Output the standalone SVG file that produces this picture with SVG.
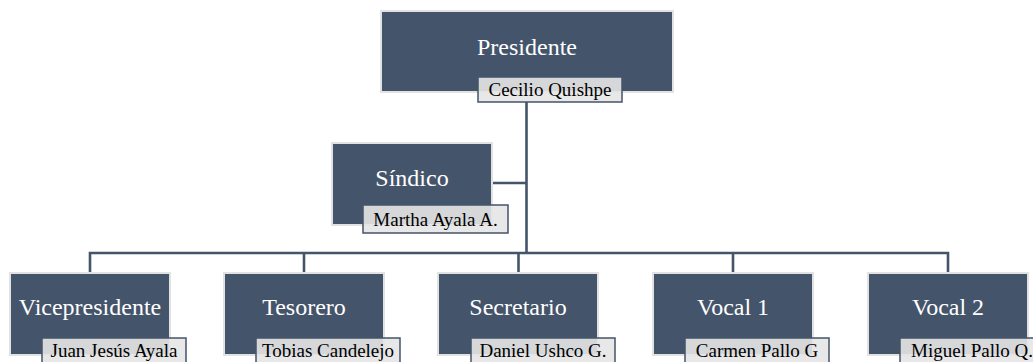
<svg xmlns="http://www.w3.org/2000/svg" width="1033" height="362" viewBox="0 0 1033 362">
<style>
.box{fill:#44546a;stroke:#e2e2e2;stroke-width:2}
.nm{fill:#e6e6e6;fill-opacity:0.9;stroke:#44546a;stroke-width:1.5}
.t{font-family:"Liberation Serif","Times New Roman",serif;font-size:24px;fill:#ffffff;text-anchor:middle}
.n{font-family:"Liberation Serif","Times New Roman",serif;font-size:19px;fill:#000000;text-anchor:middle}
.c{fill:none;stroke:#44546a;stroke-width:2.6}
</style>
<rect width="1033" height="362" fill="#ffffff"/>
<g id="connectors">
<path class="c" d="M526.5 102 V253"/>
<path class="c" d="M492 183 H526.5"/>
<path class="c" d="M90 273 V253 H948 V273"/>
<path class="c" d="M304 253 V273"/>
<path class="c" d="M518.5 253 V273"/>
<path class="c" d="M733 253 V273"/>
</g>
<g id="presidente">
<rect class="box" x="381" y="11" width="292" height="81"/>
<text class="t" x="527" y="55">Presidente</text>
<rect class="nm" x="478" y="77" width="144" height="25"/>
<text class="n" x="550" y="96">Cecilio Quishpe</text>
</g>
<g id="sindico">
<rect class="box" x="332" y="143" width="160" height="82"/>
<text class="t" x="412" y="186">Síndico</text>
<rect class="nm" x="363" y="205" width="145" height="28"/>
<text class="n" x="435.5" y="226">Martha Ayala A.</text>
</g>
<g id="vicepresidente">
<rect class="box" x="10" y="273" width="160" height="82"/>
<text class="t" x="90" y="315">Vicepresidente</text>
<rect class="nm" x="42" y="338" width="144" height="28"/>
<text class="n" x="114" y="357">Juan Jesús Ayala</text>
</g>
<g id="tesorero">
<rect class="box" x="224" y="273" width="160" height="82"/>
<text class="t" x="304" y="315">Tesorero</text>
<rect class="nm" x="256" y="338" width="144" height="28"/>
<text class="n" x="328" y="357">Tobias Candelejo</text>
</g>
<g id="secretario">
<rect class="box" x="438" y="273" width="160" height="82"/>
<text class="t" x="518" y="315">Secretario</text>
<rect class="nm" x="471" y="338" width="144" height="28"/>
<text class="n" x="543" y="357">Daniel Ushco G.</text>
</g>
<g id="vocal1">
<rect class="box" x="653" y="273" width="160" height="82"/>
<text class="t" x="733" y="315">Vocal 1</text>
<rect class="nm" x="685" y="338" width="144" height="28"/>
<text class="n" x="757" y="357">Carmen Pallo G</text>
</g>
<g id="vocal2">
<rect class="box" x="868" y="273" width="160" height="82"/>
<text class="t" x="948" y="315">Vocal 2</text>
<rect class="nm" x="900" y="338" width="144" height="28"/>
<text class="n" x="972" y="357">Miguel Pallo Q.</text>
</g>
</svg>
